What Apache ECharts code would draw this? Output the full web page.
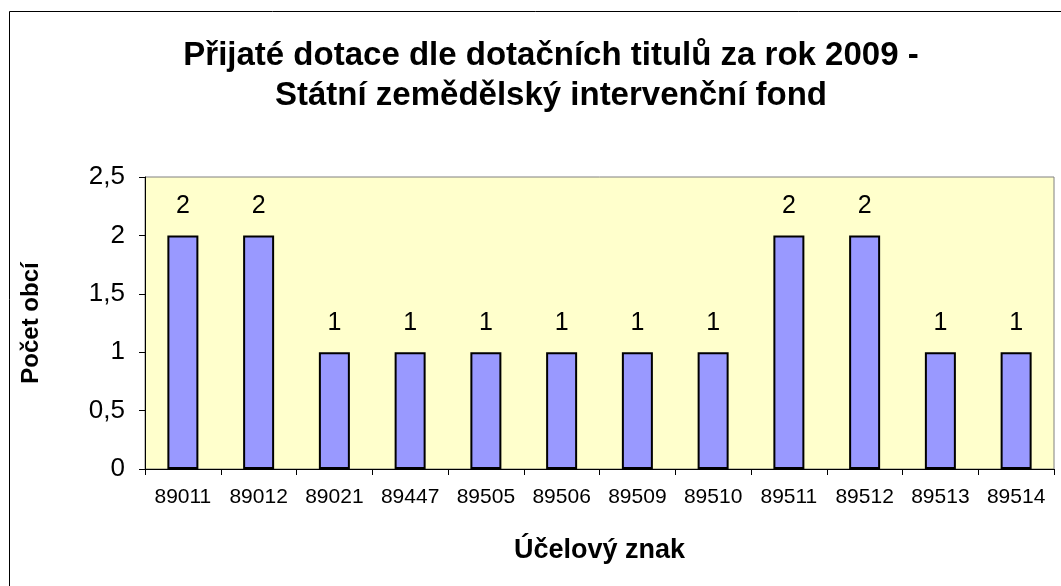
<!DOCTYPE html>
<html>
<head>
<meta charset="utf-8">
<script src="https://cdn.jsdelivr.net/npm/echarts@6/dist/echarts.min.js"></script>
<style>
  html, body { margin: 0; padding: 0; background: #fff; }
  #chart { width: 1061px; height: 586px; }
</style>
</head>
<body>
<div id="chart"></div>
<script>
var categories = ['89011', '89012', '89021', '89447', '89505', '89506', '89509', '89510', '89511', '89512', '89513', '89514'];
var counts = [2, 2, 1, 1, 1, 1, 1, 1, 2, 2, 1, 1];

var chart = echarts.init(document.getElementById('chart'));
var font = 'Liberation Sans, Arial, sans-serif';

chart.setOption({
    animation: false,
    backgroundColor: '#fff',
    graphic: [{
        type: 'rect',
        shape: { x: 9.5, y: 11.5, width: 1100, height: 700 },
        style: { fill: 'none', stroke: '#000', lineWidth: 1 },
        z: -1
    }],
    title: {
        text: 'Přijaté dotace dle dotačních titulů za rok 2009 -\nStátní zemědělský intervenční fond',
        left: 546,
        textAlign: 'center',
        top: 31,
        textStyle: { fontFamily: font, fontSize: 33, fontWeight: 'bold', color: '#000', lineHeight: 40 }
    },
    grid: {
        left: 145,
        right: 7,
        top: 177,
        bottom: 117,
        show: true,
        backgroundColor: '#FFFFCC',
        borderColor: '#808080',
        borderWidth: 1
    },
    xAxis: {
        type: 'category',
        data: categories,
        name: 'Účelový znak',
        nameLocation: 'middle',
        nameGap: 68,
        nameTextStyle: { fontFamily: font, fontSize: 27, fontWeight: 'bold', color: '#000' },
        axisLine: { lineStyle: { color: '#000' } },
        axisTick: { show: true, length: 6, lineStyle: { color: '#000' } },
        axisLabel: { interval: 0, fontFamily: font, fontSize: 21, color: '#000', margin: 18 }
    },
    yAxis: {
        type: 'value',
        min: 0,
        max: 2.5,
        interval: 0.5,
        name: 'Počet obcí',
        nameLocation: 'middle',
        nameGap: 102,
        nameRotate: 90,
        nameTextStyle: { fontFamily: font, fontSize: 24, fontWeight: 'bold', color: '#000' },
        axisLine: { show: true, lineStyle: { color: '#000' } },
        axisTick: { show: true, length: 6, lineStyle: { color: '#000' } },
        splitLine: { show: false },
        axisLabel: {
            fontFamily: font, fontSize: 26, color: '#000', margin: 20,
            formatter: function(v) { return String(v).replace('.', ','); }
        }
    },
    series: [{
        type: 'bar',
        data: counts,
        barWidth: 31,
        itemStyle: { color: '#9999FF', borderColor: '#000', borderWidth: 2 },
        label: {
            show: true,
            position: 'top',
            distance: 17,
            fontFamily: font,
            fontSize: 25,
            color: '#000'
        }
    }]
});
</script>
</body>
</html>
